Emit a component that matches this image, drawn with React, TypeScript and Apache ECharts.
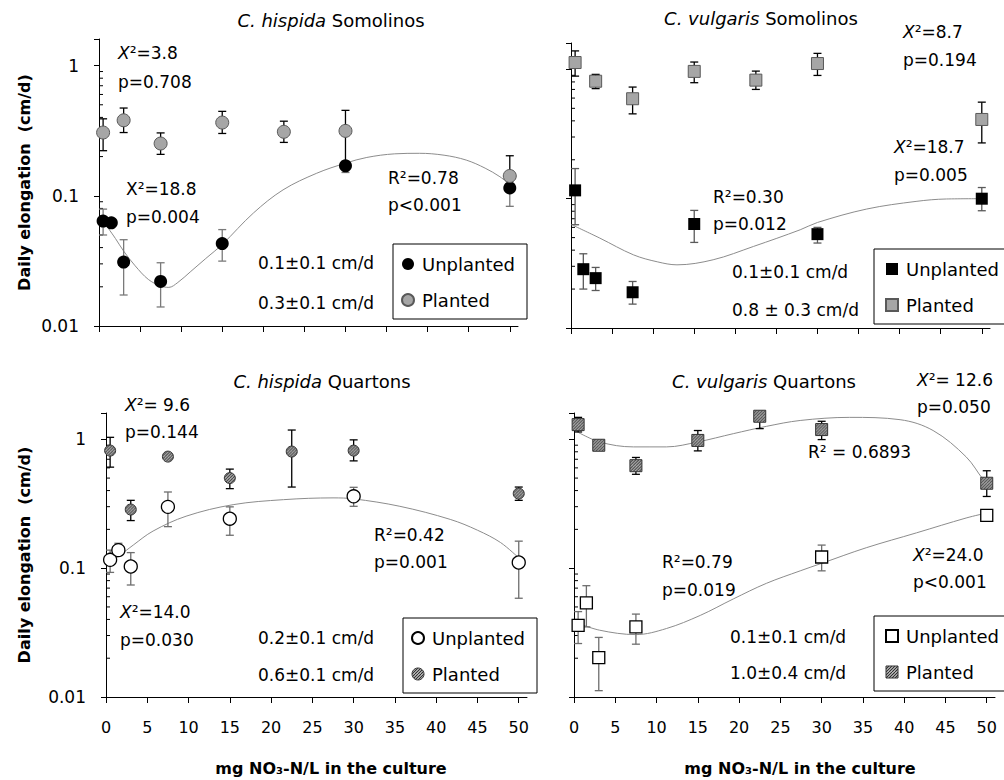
import React, { useEffect, useRef } from 'react';
import * as echarts from 'echarts';

const FONT = 'DejaVu Sans';

const xTickValues = [0, 5, 10, 15, 20, 25, 30, 35, 40, 45, 50];
const yMinorTickValues = [0.02, 0.03, 0.04, 0.05, 0.06, 0.07, 0.08, 0.09, 0.2, 0.3, 0.4, 0.5, 0.6, 0.7, 0.8, 0.9];

const panelTitles = ['C. hispida|Somolinos', 'C. vulgaris|Somolinos', 'C. hispida|Quartons', 'C. vulgaris|Quartons'];
const seriesNames = ['Unplanted', 'Planted'];

// ---- C. hispida Somolinos (top left)
const tlUnplX = [0.5, 1.5, 3, 7.5, 15, 30, 50];
const tlUnplY = [0.064, 0.062, 0.031, 0.022, 0.043, 0.17, 0.115];
const tlUnplLow = [0.05, null, 0.0173, 0.014, 0.0315, 0.151, 0.083];
const tlUnplHigh = [0.079, null, 0.046, 0.0306, 0.055, 0.185, 0.13];
const tlPlX = [0.5, 3, 7.5, 15, 22.5, 30, 50];
const tlPlY = [0.306, 0.38, 0.252, 0.365, 0.31, 0.315, 0.142];
const tlPlLow = [0.222, 0.306, 0.208, 0.301, 0.257, 0.18, 0.12];
const tlPlHigh = [0.39, 0.472, 0.304, 0.445, 0.374, 0.453, 0.203];
const tlTrendX = [0.5, 2, 3, 4.4, 6, 7.5, 8.5, 9.6, 11.1, 13, 15, 18.8, 22.4, 26.5, 30, 32.6, 36, 39, 42, 44.7, 47, 48.8, 50];
const tlTrendY = [0.064, 0.047, 0.0376, 0.029, 0.0228, 0.0203, 0.0198, 0.0216, 0.026, 0.033, 0.0423, 0.0738, 0.111, 0.149, 0.178, 0.197, 0.21, 0.212, 0.205, 0.188, 0.163, 0.14, 0.122];

// ---- C. vulgaris Somolinos (top right)
const trUnplX = [0.5, 1.5, 3, 7.5, 15, 30, 50];
const trUnplY = [0.116, 0.0285, 0.0243, 0.0189, 0.0637, 0.0532, 0.1];
const trUnplLow = [0.0629, 0.02, 0.0195, 0.0153, 0.0459, 0.0454, 0.0807];
const trUnplHigh = [0.171, 0.0375, 0.0294, 0.0229, 0.0812, 0.06, 0.122];
const trPlX = [0.5, 3, 7.5, 15, 22.5, 30, 50];
const trPlY = [1.13, 0.81, 0.593, 0.965, 0.826, 1.11, 0.41];
const trPlLow = [0.887, 0.71, 0.453, 0.789, 0.7, 0.898, 0.27];
const trPlHigh = [1.39, 0.915, 0.73, 1.14, 0.97, 1.33, 0.558];
const trTrendX = [0.3, 3.5, 7.6, 10.5, 12.9, 17.3, 22.2, 27.9, 30, 36, 42, 45.7, 50];
const trTrendY = [0.062, 0.0496, 0.0368, 0.0325, 0.0308, 0.0337, 0.0427, 0.0575, 0.0655, 0.0832, 0.0953, 0.0995, 0.1];

// ---- C. hispida Quartons (bottom left)
const blUnplX = [0.5, 1.5, 3, 7.5, 15, 30, 50];
const blUnplY = [0.116, 0.138, 0.103, 0.299, 0.242, 0.361, 0.1106];
const blUnplLow = [0.0927, 0.125, 0.074, 0.21, 0.18, 0.302, 0.0584];
const blUnplHigh = [0.138, 0.156, 0.132, 0.39, 0.299, 0.424, 0.162];
const blPlX = [0.5, 3, 7.5, 15, 22.5, 30, 50];
const blPlY = [0.817, 0.285, 0.734, 0.5, 0.803, 0.817, 0.379];
const blPlLow = [0.608, 0.234, null, 0.414, 0.426, 0.68, 0.336];
const blPlHigh = [1.036, 0.336, null, 0.587, 1.18, 0.99, 0.426];
const blTrendX = [0.5, 3.3, 5.7, 9.7, 15.4, 21.5, 27.5, 30, 35.6, 41.7, 45, 47.8, 50];
const blTrendY = [0.11, 0.151, 0.194, 0.253, 0.311, 0.34, 0.351, 0.345, 0.302, 0.239, 0.197, 0.158, 0.12];

// ---- C. vulgaris Quartons (bottom right)
const brUnplX = [0.5, 1.5, 3, 7.5, 30, 50];
const brUnplY = [0.036, 0.0538, 0.0202, 0.035, 0.122, 0.257];
const brUnplLow = [0.026, 0.035, 0.0112, 0.0257, 0.0953, 0.231];
const brUnplHigh = [0.046, 0.0731, 0.029, 0.044, 0.151, 0.276];
const brPlX = [0.5, 3, 7.5, 15, 22.5, 30, 50];
const brPlY = [1.3, 0.899, 0.624, 0.98, 1.51, 1.19, 0.456];
const brPlLow = [1.14, null, 0.535, 0.813, 1.21, 0.995, 0.36];
const brPlHigh = [1.48, null, 0.723, 1.17, 1.58, 1.38, 0.57];
const brPlTrendX = [0.1, 3.1, 7.2, 11.2, 15, 19.3, 23.3, 27.4, 33.4, 39.5, 43.5, 47.5, 49.6, 50];
const brPlTrendY = [1.17, 0.954, 0.873, 0.873, 0.954, 1.106, 1.26, 1.4, 1.48, 1.42, 1.17, 0.731, 0.484, 0.46];
const brUnplTrendX = [0.1, 3.1, 7.5, 11.2, 15.3, 19.3, 23.3, 27.4, 30, 35.4, 41.5, 47.5, 50];
const brUnplTrendY = [0.0382, 0.033, 0.0305, 0.034, 0.043, 0.0577, 0.0762, 0.0953, 0.109, 0.144, 0.188, 0.245, 0.268];

const pairs = (xs: number[], ys: number[]) => xs.map((x, i) => [x, ys[i]]);
const errData = (xs: number[], lo: (number | null)[], hi: (number | null)[]) =>
  xs.map((x, i) => (lo[i] == null ? null : [x, lo[i], hi[i]])).filter(Boolean);

function hatchCanvas() {
  const c = document.createElement('canvas');
  c.width = 6;
  c.height = 6;
  const ctx = c.getContext('2d')!;
  ctx.fillStyle = '#d4d4d4';
  ctx.fillRect(0, 0, 6, 6);
  ctx.strokeStyle = '#2a2a2a';
  ctx.lineWidth = 1.1;
  ctx.beginPath();
  for (let k = -6; k <= 9; k += 3) {
    ctx.moveTo(k, 6);
    ctx.lineTo(k + 6, 0);
  }
  ctx.stroke();
  return c;
}
// symbols in a scatter are drawn at unit size and scaled by size/2, so the pattern is scaled back
function makeHatch(canvas: HTMLCanvasElement, symbolSize?: number) {
  const s = symbolSize ? 2 / symbolSize : 1;
  return { image: canvas, repeat: 'repeat', imageWidth: 6, imageHeight: 6, scaleX: s, scaleY: s } as any;
}

const errRender = (color: string) => (params: any, api: any) => {
  const x = api.value(0);
  const a = api.coord([x, api.value(1)]);
  const b = api.coord([x, api.value(2)]);
  const c = 4;
  const st = { stroke: color, lineWidth: 1.3 };
  return {
    type: 'group',
    children: [
      { type: 'line', shape: { x1: a[0], y1: a[1], x2: b[0], y2: b[1] }, style: st },
      { type: 'line', shape: { x1: a[0] - c, y1: a[1], x2: a[0] + c, y2: a[1] }, style: st },
      { type: 'line', shape: { x1: b[0] - c, y1: b[1], x2: b[0] + c, y2: b[1] }, style: st },
    ],
  };
};

const minorTickRender = (params: any, api: any) => {
  const p = api.coord([api.value(0), api.value(1)]);
  return { type: 'line', shape: { x1: p[0], y1: p[1], x2: p[0] + 4, y2: p[1] }, style: { stroke: '#000', lineWidth: 1 } };
};

function buildOption() {
  const hc = hatchCanvas();
  const hatchLegend = makeHatch(hc);
  const grids = [
    { left: 99, top: 39, width: 419, height: 287 },
    { left: 571, top: 43, width: 419, height: 285 },
    { left: 106, top: 413, width: 421, height: 284 },
    { left: 574, top: 413, width: 421, height: 284 },
  ];
  const keys = ['tl', 'tr', 'bl', 'br'];
  const xAxis = grids.map((g, i) => ({
    gridIndex: i,
    type: 'value',
    min: 0,
    max: 51,
    interval: 5,
    axisLine: { lineStyle: { color: '#000', width: 1 } },
    axisTick: { length: 6, customValues: xTickValues, lineStyle: { color: '#000' } },
    axisLabel: {
      show: i >= 2,
      customValues: xTickValues,
      formatter: (v: number) => (v % 5 === 0 ? String(v) : ''),
      fontSize: 16,
      fontFamily: FONT,
      color: '#000',
      margin: 22,
    },
    splitLine: { show: false },
  }));
  const yAxis = grids.map((g, i) => ({
    gridIndex: i,
    type: 'log',
    logBase: 10,
    min: 0.01,
    max: 1.6,
    axisLine: { show: true, lineStyle: { color: '#000', width: 1 } },
    axisTick: { show: true, length: 5, lineStyle: { color: '#000' } },
    axisLabel: {
      show: i % 2 === 0,
      fontSize: 17,
      fontFamily: FONT,
      color: '#000',
      margin: 20,
      formatter: (v: number) => {
        const e = Math.log10(v);
        if (Math.abs(e - Math.round(e)) > 1e-6) return '';
        return String(Number(Math.pow(10, Math.round(e)).toPrecision(1)));
      },
    },
    splitLine: { show: false },
    name: i % 2 === 0 ? 'Daily elongation  (cm/d)' : '',
    nameLocation: 'middle',
    nameGap: i === 0 ? 67 : 74,
    nameTextStyle: { fontSize: 16, fontWeight: 'bold', fontFamily: FONT, color: '#000' },
  }));

  const series: any[] = [];
  const addPanel = (gi: number, d: any) => {
    const k = keys[gi];
    series.push({
      type: 'custom', name: 'minor' + k, xAxisIndex: gi, yAxisIndex: gi, silent: true, z: 1,
      renderItem: minorTickRender, data: yMinorTickValues.map((v) => [0, v]), encode: { x: 0, y: 1 },
    });
    d.trends.forEach((t: any, ti: number) => {
      series.push({
        type: 'line', name: 'trend' + k + ti, xAxisIndex: gi, yAxisIndex: gi, data: t,
        smooth: 0.35, showSymbol: false, symbol: 'none', silent: true, z: 2,
        lineStyle: { color: '#8c8c8c', width: 1 },
      });
    });
    series.push({
      type: 'custom', name: 'errU' + k, xAxisIndex: gi, yAxisIndex: gi, silent: true, z: 3,
      renderItem: errRender(d.uErrColor), data: d.uErr, encode: { x: 0, y: [1, 2] },
    });
    series.push({
      type: 'scatter', name: k + '|' + seriesNames[0], xAxisIndex: gi, yAxisIndex: gi, z: 4,
      symbol: d.uSymbol, symbolSize: d.uSize, data: d.u, itemStyle: { opacity: 1, ...d.uStyle },
    });
    series.push({
      type: 'custom', name: 'errP' + k, xAxisIndex: gi, yAxisIndex: gi, silent: true, z: 5,
      renderItem: errRender('#000'), data: d.pErr, encode: { x: 0, y: [1, 2] },
    });
    series.push({
      type: 'scatter', name: k + '|' + seriesNames[1], xAxisIndex: gi, yAxisIndex: gi, z: 6,
      symbol: d.pSymbol, symbolSize: d.pSize, data: d.p, itemStyle: { opacity: 1, ...d.pStyle },
    });
  };

  addPanel(0, {
    u: pairs(tlUnplX, tlUnplY), uErr: errData(tlUnplX, tlUnplLow, tlUnplHigh), uErrColor: '#7a7a7a',
    p: pairs(tlPlX, tlPlY), pErr: errData(tlPlX, tlPlLow, tlPlHigh),
    trends: [pairs(tlTrendX, tlTrendY)],
    uSymbol: 'circle', uSize: 13, uStyle: { color: '#000' },
    pSymbol: 'circle', pSize: 13, pStyle: { color: '#a6a6a6', borderColor: '#595959', borderWidth: 1 },
  });
  addPanel(1, {
    u: pairs(trUnplX, trUnplY), uErr: errData(trUnplX, trUnplLow, trUnplHigh), uErrColor: '#5a5a5a',
    p: pairs(trPlX, trPlY), pErr: errData(trPlX, trPlLow, trPlHigh),
    trends: [pairs(trTrendX, trTrendY)],
    uSymbol: 'rect', uSize: 12, uStyle: { color: '#000' },
    pSymbol: 'rect', pSize: 12, pStyle: { color: '#a6a6a6', borderColor: '#595959', borderWidth: 1 },
  });
  addPanel(2, {
    u: pairs(blUnplX, blUnplY), uErr: errData(blUnplX, blUnplLow, blUnplHigh), uErrColor: '#6e6e6e',
    p: pairs(blPlX, blPlY), pErr: errData(blPlX, blPlLow, blPlHigh),
    trends: [pairs(blTrendX, blTrendY)],
    uSymbol: 'circle', uSize: 13, uStyle: { color: '#fff', borderColor: '#000', borderWidth: 1.3 },
    pSymbol: 'circle', pSize: 11, pStyle: { color: makeHatch(hc, 11), borderColor: '#333', borderWidth: 1 },
  });
  addPanel(3, {
    u: pairs(brUnplX, brUnplY), uErr: errData(brUnplX, brUnplLow, brUnplHigh), uErrColor: '#6e6e6e',
    p: pairs(brPlX, brPlY), pErr: errData(brPlX, brPlLow, brPlHigh),
    trends: [pairs(brPlTrendX, brPlTrendY), pairs(brUnplTrendX, brUnplTrendY)],
    uSymbol: 'rect', uSize: 12, uStyle: { color: '#fff', borderColor: '#000', borderWidth: 1.3 },
    pSymbol: 'rect', pSize: 12, pStyle: { color: makeHatch(hc, 12), borderColor: '#333', borderWidth: 1 },
  });

  const legendPos = [
    { left: 393, top: 244 },
    { left: 874, top: 249 },
    { left: 403, top: 618 },
    { left: 874, top: 616 },
  ];
  const legend = legendPos.map((p, i) => ({
    ...p,
    orient: 'vertical',
    data: seriesNames.map((n, j) =>
      i >= 2 && j === 1
        ? { name: keys[i] + '|' + n, itemStyle: { color: hatchLegend, borderColor: '#333', borderWidth: 1 } }
        : { name: keys[i] + '|' + n }
    ),
    formatter: (n: string) => n.split('|')[1],
    itemWidth: 12,
    itemHeight: 12,
    itemGap: 18,
    padding: i % 2 === 0 ? [11, 12, 10, 8] : [11, 40, 10, 11],
    borderColor: '#000',
    borderWidth: 1,
    backgroundColor: '#fff',
    selectedMode: false,
    textStyle: { fontSize: 18, fontFamily: FONT, color: '#000', lineHeight: 18, padding: [0, 0, 0, 3] },
  }));

  const txt = (text: string, x: number, y: number, extra: any = {}) => ({
    type: 'text', x, y, z: 100, silent: true,
    style: {
      text, fontSize: 17, fontFamily: FONT, fill: '#000', align: 'left', verticalAlign: 'middle',
      rich: { i: { fontStyle: 'italic', fontSize: 17, fontFamily: FONT, fill: '#000' } },
      ...extra,
    },
  });
  const titlePos = [[331, 20], [761, 18], [322, 381], [764, 381]];
  const graphic: any[] = [];
  panelTitles.forEach((t, i) => {
    const [a, b] = t.split('|');
    graphic.push({
      type: 'text', x: titlePos[i][0], y: titlePos[i][1], z: 100, silent: true,
      style: {
        text: '{i|' + a + '} ' + b, fontSize: 18, fontFamily: FONT, fill: '#000', align: 'center', verticalAlign: 'middle',
        rich: { i: { fontStyle: 'italic', fontSize: 18, fontFamily: FONT, fill: '#000' } },
      },
    });
  });
  // annotations
  graphic.push(
    txt('{i|X}²=3.8', 118, 53), txt('p=0.708', 118, 82),
    txt('X²=18.8', 126, 189), txt('p=0.004', 126, 217),
    txt('R²=0.78', 388, 178), txt('p<0.001', 388, 205),
    txt('0.1±0.1 cm/d', 258, 263), txt('0.3±0.1 cm/d', 258, 303),

    txt('{i|X}²=8.7', 903, 32), txt('p=0.194', 903, 60),
    txt('{i|X}²=18.7', 894, 147), txt('p=0.005', 894, 175),
    txt('R²=0.30', 713, 197), txt('p=0.012', 713, 224),
    txt('0.1±0.1 cm/d', 732, 272), txt('0.8 ± 0.3 cm/d', 732, 310),

    txt('{i|X}²= 9.6', 125, 405), txt('p=0.144', 125, 432),
    txt('{i|X}²=14.0', 120, 612), txt('p=0.030', 120, 640),
    txt('R²=0.42', 374, 535), txt('p=0.001', 374, 562),
    txt('0.2±0.1 cm/d', 258, 638), txt('0.6±0.1 cm/d', 258, 675),

    txt('{i|X}²= 12.6', 917, 380), txt('p=0.050', 917, 407),
    txt('R² = 0.6893', 808, 452),
    txt('R²=0.79', 662, 562), txt('p=0.019', 662, 590),
    txt('{i|X}²=24.0', 913, 555), txt('p<0.001', 913, 582),
    txt('0.1±0.1 cm/d', 730, 637), txt('1.0±0.4 cm/d', 730, 673),
  );
  // x axis names
  [[331, 768], [800, 768]].forEach(([x, y]) => {
    graphic.push({
      type: 'text', x, y, z: 100, silent: true,
      style: {
        text: 'mg NO₃-N/L in the culture', fontSize: 16, fontWeight: 'bold', fontFamily: FONT, fill: '#000',
        align: 'center', verticalAlign: 'middle',
      },
    });
  });

  return {
    animation: false,
    backgroundColor: '#fff',
    textStyle: { fontFamily: FONT },
    grid: grids,
    xAxis,
    yAxis,
    legend,
    series,
    graphic,
  };
}

export default function App() {
  const ref = useRef<HTMLDivElement>(null);
  useEffect(() => {
    document.body.style.margin = '0';
    const chart = echarts.init(ref.current!, null, { renderer: 'svg' });
    chart.setOption(buildOption() as any);
    return () => chart.dispose();
  }, []);
  return <div ref={ref} style={{ width: 1004, height: 780 }} />;
}
